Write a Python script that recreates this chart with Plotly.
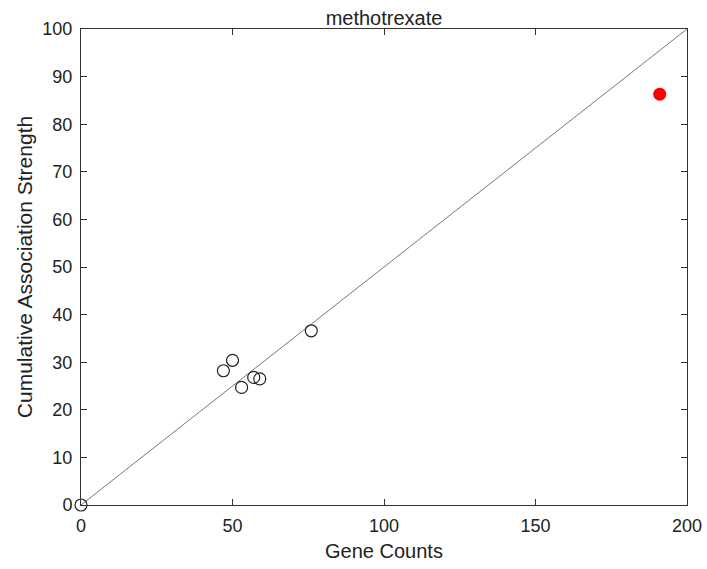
import plotly.graph_objects as go

gene_counts = [0, 47, 50, 53, 57, 59, 76]
strength = [0, 28.2, 30.4, 24.7, 26.8, 26.5, 36.6]
highlight_x = [191]
highlight_y = [86.3]
line_x = [0, 200]
line_y = [0, 100]
x_ticks = [0, 50, 100, 150, 200]
y_ticks = [0, 10, 20, 30, 40, 50, 60, 70, 80, 90, 100]

font = "Liberation Sans, Arial, sans-serif"

fig = go.Figure()
fig.add_trace(go.Scatter(x=line_x, y=line_y, mode="lines",
                         line=dict(color="#555555", width=0.8), showlegend=False))
fig.add_trace(go.Scatter(x=gene_counts, y=strength, mode="markers", cliponaxis=False,
                         marker=dict(symbol="circle-open", size=12, color="#222222",
                                     line=dict(width=1.2, color="#222222")),
                         showlegend=False))
fig.add_trace(go.Scatter(x=highlight_x, y=highlight_y, mode="markers", cliponaxis=False,
                         marker=dict(symbol="circle", size=13, color="#ff0000"),
                         showlegend=False))

axis_common = dict(showgrid=False, zeroline=False, showline=True, mirror="ticks",
                   linecolor="#333333", linewidth=1, ticks="inside", ticklen=6,
                   tickcolor="#333333", automargin=False, ticklabelstandoff=4,
                   tickfont=dict(family=font, size=18, color="#222222"))

fig.update_layout(
    width=707, height=569,
    margin=dict(l=81, r=20, t=29, b=64),
    paper_bgcolor="white", plot_bgcolor="white",
    title=dict(text="methotrexate", x=0.5, xanchor="center", y=1 - 18 / 569, yanchor="middle",
               xref="paper", yref="container",
               font=dict(family=font, size=20, color="#222222")),
    xaxis=dict(range=[0, 200], tickvals=x_ticks,
               title=dict(text="Gene Counts", font=dict(family=font, size=20, color="#222222"), standoff=9),
               **axis_common),
    yaxis=dict(range=[0, 100], tickvals=y_ticks,
               title=dict(text="Cumulative Association Strength", font=dict(family=font, size=21, color="#222222"), standoff=4),
               **axis_common),
)
fig.write_html("out.html")
